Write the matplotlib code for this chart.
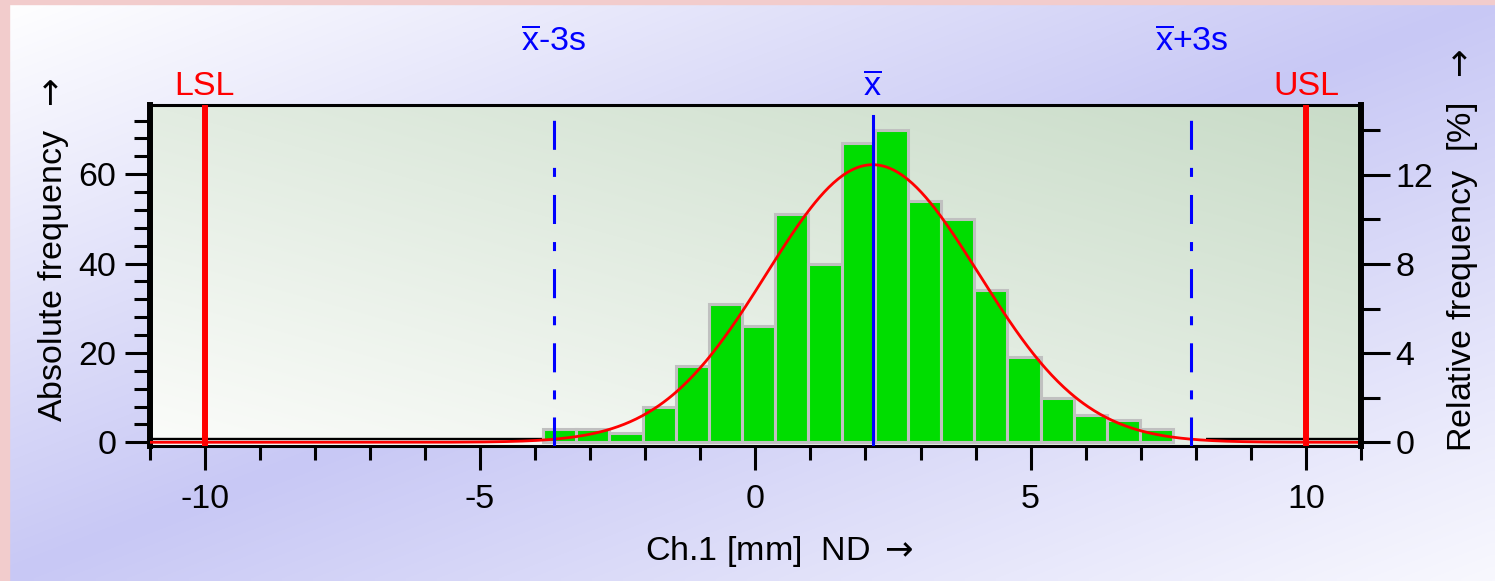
"""Histogram of Ch.1 [mm] with normal-distribution fit, LSL/USL and x̄ ± 3s markers."""

import matplotlib

matplotlib.use("Agg")
import matplotlib.pyplot as plt  # noqa: E402
import numpy as np  # noqa: E402
from matplotlib.colors import to_rgb  # noqa: E402
from matplotlib.patches import Rectangle  # noqa: E402
from matplotlib.ticker import MultipleLocator  # noqa: E402

# histogram classes
bin_start = -3.855
bin_width = 0.6024
counts = [3, 3, 2, 8, 17, 31, 26, 51, 40, 67, 70, 54, 50, 34, 19, 10, 6, 5, 3]

# statistics shown by the markers
mean = 2.13
sd = 1.93
lsl = -10.0
usl = 10.0

x_limits = (-11, 11)
abs_limits = (-0.72, 75.5)
x_major, x_minor = 5, 1
abs_major, abs_minor = 20, 4
rel_major, rel_minor = 4, 2

plt.rcParams["font.family"] = ["Liberation Sans", "DejaVu Sans"]
plt.rcParams["font.size"] = 24.5
plt.rcParams["mathtext.fontset"] = "custom"
plt.rcParams["mathtext.rm"] = "Liberation Sans"
plt.rcParams["mathtext.it"] = "Liberation Sans"
plt.rcParams["mathtext.sf"] = "DejaVu Sans"
plt.rcParams["axes.unicode_minus"] = False
plt.rcParams["lines.scale_dashes"] = False

ARROW = r"$\mathsf{\rightarrow}$"


def lerp(c0, c1, t):
    c0, c1 = np.array(to_rgb(c0)), np.array(to_rgb(c1))
    return c0 + (c1 - c0) * t[..., None]


def main() -> None:
    fig = plt.figure(figsize=(14.95, 5.81), dpi=100)

    # figure background: diagonal lavender band
    bg = fig.add_axes([0, 0, 1, 1], zorder=-5)
    gx, gy = np.meshgrid(np.linspace(0, 1, 300), np.linspace(0, 1, 120))
    t = (gx + gy) / 2
    img = np.where(t[..., None] < 0.5,
                   lerp("#ffffff", "#c8c8f5", np.clip(t / 0.5, 0, 1)),
                   lerp("#c8c8f5", "#f8f8fe", np.clip((t - 0.5) / 0.5, 0, 1)))
    bg.imshow(img, aspect="auto", extent=(0, 1, 0, 1), origin="upper",
              interpolation="bilinear")
    bg.axis("off")
    fig.patches.append(Rectangle((0, 0), 9 / 1495, 1, transform=fig.transFigure,
                                 color="#f2cccc", zorder=-4))
    fig.patches.append(Rectangle((0, 1 - 4 / 581), 1, 4 / 581, transform=fig.transFigure,
                                 color="#f2cccc", zorder=-4))

    ax = fig.add_axes([0.1001, 0.2332, 0.8103, 0.5861])
    ax.patch.set_visible(False)

    # plot area: light green gradient
    u, v = np.meshgrid(np.linspace(0, 1, 200), np.linspace(0, 1, 100))
    ax.imshow(lerp("#fbfcfa", "#c9dcc8", (u + v) / 2), aspect="auto",
              extent=(0, 1, 0, 1), origin="lower", transform=ax.transAxes,
              interpolation="bilinear", zorder=0)

    edges = bin_start + bin_width * np.arange(len(counts) + 1)
    n = sum(counts)

    ax.hlines(0.63, x_limits[0], edges[0], color="black", lw=1.7, zorder=1)
    ax.hlines(0.63, edges[-1] + bin_width, x_limits[1], color="black", lw=1.7, zorder=1)
    ax.bar(edges[:-1], counts, width=bin_width, align="edge", color="#00dd00",
           edgecolor="#c0c0c0", linewidth=2.2, zorder=2)

    xs = np.linspace(*x_limits, 800)
    fit = n * bin_width / (sd * np.sqrt(2 * np.pi)) * np.exp(-0.5 * ((xs - mean) / sd) ** 2)
    ax.plot(xs, fit, color="#ff0000", lw=2, zorder=3)

    dash = (0, (20.9, 13, 6.5, 13))
    ax.axvline(mean - 3 * sd, ymax=0.9677, color="#0000ff", lw=2.2, ls=dash, zorder=4)
    ax.axvline(mean + 3 * sd, ymax=0.9677, color="#0000ff", lw=2.2, ls=dash, zorder=4)
    ax.axvline(mean, ymax=0.9677, color="#0000ff", lw=2.2, zorder=4)
    ax.axvline(lsl, color="#ff0000", lw=4.3, zorder=5)
    ax.axvline(usl, color="#ff0000", lw=4.3, zorder=5)

    tr = ax.get_xaxis_transform()
    ax.text(lsl, 1.029, "LSL", color="#ff0000", ha="center", va="baseline", transform=tr)
    ax.text(usl, 1.029, "USL", color="#ff0000", ha="center", va="baseline", transform=tr)
    ax.text(mean, 1.029, r"$\overline{\mathrm{x}}$", color="#0000ff", ha="center",
            va="baseline", transform=tr)
    ax.text(mean - 3 * sd, 1.159, r"$\overline{\mathrm{x}}$-3s", color="#0000ff",
            ha="center", va="baseline", transform=tr)
    ax.text(mean + 3 * sd, 1.159, r"$\overline{\mathrm{x}}$+3s", color="#0000ff",
            ha="center", va="baseline", transform=tr)

    ax.set_xlim(*x_limits)
    ax.set_ylim(*abs_limits)
    ax.xaxis.set_major_locator(MultipleLocator(x_major))
    ax.xaxis.set_minor_locator(MultipleLocator(x_minor))
    ax.yaxis.set_major_locator(MultipleLocator(abs_major))
    ax.yaxis.set_minor_locator(MultipleLocator(abs_minor))
    ax.tick_params(axis="x", which="major", length=17, width=2.2, pad=11)
    ax.tick_params(axis="x", which="minor", length=10.4, width=2.2)
    ax.tick_params(axis="y", which="major", length=17.8, width=2.2, pad=6)
    ax.tick_params(axis="y", which="minor", length=11.3, width=2.2)

    ax2 = ax.twinx()
    ax2.set_ylim(abs_limits[0] * 100 / n, abs_limits[1] * 100 / n)
    ax2.yaxis.set_major_locator(MultipleLocator(rel_major))
    ax2.yaxis.set_minor_locator(MultipleLocator(rel_minor))
    ax2.tick_params(axis="y", which="major", length=21, width=2.2, pad=3.6)
    ax2.tick_params(axis="y", which="minor", length=13.7, width=2.2)

    for side in ("left", "right", "top", "bottom"):
        ax2.spines[side].set_visible(side == "right")
        ax.spines[side].set_visible(side != "right")
    ax.spines["left"].set_linewidth(4.3)
    ax2.spines["right"].set_linewidth(4.3)
    ax.spines["top"].set_linewidth(2.2)
    ax.spines["bottom"].set_linewidth(2.2)

    fig.text(779 / 1495, 21 / 581, "Ch.1 [mm]  ND " + ARROW, ha="center", va="baseline")
    fig.text(54 / 1495, 1 - 250 / 581, "Absolute frequency  " + ARROW, rotation=90,
             ha="center", va="center")
    fig.text(1463 / 1495, 1 - 250 / 581, "Relative frequency  [%]  " + ARROW, rotation=90,
             ha="center", va="center")

    fig.savefig("out.png", dpi=100)


if __name__ == "__main__":
    main()
